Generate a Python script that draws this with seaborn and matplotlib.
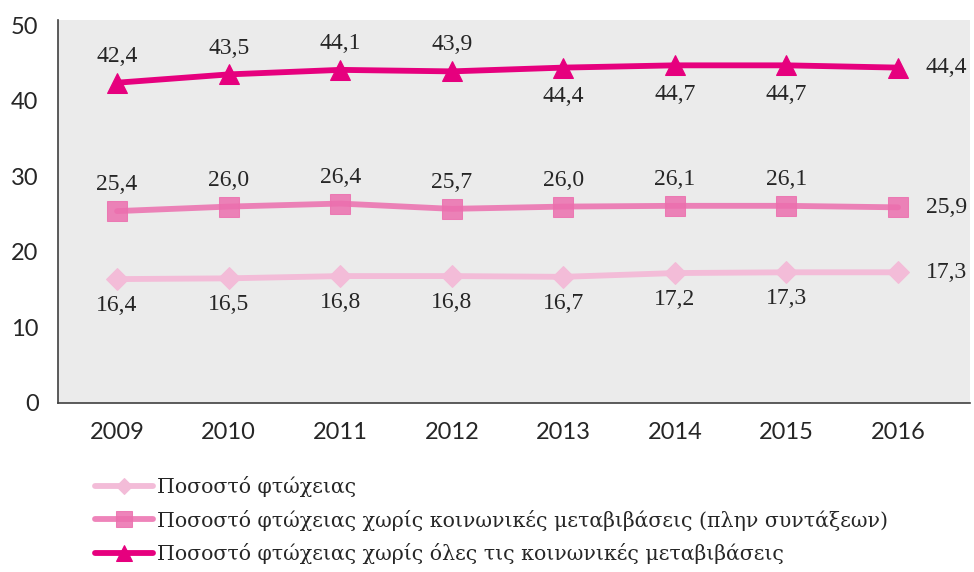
import pandas as pd
import seaborn as sns
import matplotlib.pyplot as plt

# data
years = ['2009', '2010', '2011', '2012', '2013', '2014', '2015', '2016']
poverty = [16.4, 16.5, 16.8, 16.8, 16.7, 17.2, 17.3, 17.3]
no_transfers_ex_pensions = [25.4, 26.0, 26.4, 25.7, 26.0, 26.1, 26.1, 25.9]
no_transfers_all = [42.4, 43.5, 44.1, 43.9, 44.4, 44.7, 44.7, 44.4]

labels = [
    'Ποσοστό φτώχειας',
    'Ποσοστό φτώχειας χωρίς κοινωνικές μεταβιβάσεις (πλην συντάξεων)',
    'Ποσοστό φτώχειας χωρίς όλες τις κοινωνικές μεταβιβάσεις',
]

sns.set_theme(style='white')
plt.rcParams['font.family'] = ['Lato', 'DejaVu Sans']

fig = plt.figure(figsize=(9.74, 5.72), dpi=100)
ax = fig.add_axes([0.0595, 0.2955, 0.9364, 0.6695])
ax.set_facecolor('#EBEBEB')

x = list(range(len(years)))

# series: values, colour, marker, marker size, alpha, label placement, below offset
series = [
    (poverty, '#F3BCD8', 'D', 11, 1.0, 'below', -19),
    (no_transfers_ex_pensions, '#EC6FAE', 's', 15, 0.85, 'above', -19),
    (no_transfers_all, '#E6007E', '^', 15, 1.0, 'mixed', -21),
]

for (vals, col, mk, ms, a, pos, below), lab in zip(series, labels):
    df = pd.DataFrame({'x': x, 'y': vals})
    sns.lineplot(data=df, x='x', y='y', ax=ax, color=col, linewidth=4.2,
                 marker=mk, markersize=ms, markeredgecolor=col,
                 markerfacecolor=col, alpha=a, label=lab)
    for i, v in enumerate(vals):
        txt = f'{v:.1f}'.replace('.', ',')
        if i == len(vals) - 1:
            off, ha = (20, 0), 'left'
        elif pos == 'above' or (pos == 'mixed' and i < 4):
            off, ha = (0, 19), 'center'
        else:
            off, ha = (0, below), 'center'
        ax.annotate(txt, (i, v), xytext=off, textcoords='offset points',
                    ha=ha, va='center', fontsize=17, color='#262626',
                    family=['Liberation Serif', 'DejaVu Serif'])

ax.set_xlim(-0.53, 7.645)
ax.set_ylim(0, 50.7)
ax.set_xticks(x)
ax.set_xticklabels(years)
ax.set_yticks([0, 10, 20, 30, 40, 50])
ax.tick_params(axis='both', labelsize=17, colors='#262626', length=0, pad=14)
ax.set_xlabel('')
ax.set_ylabel('')
for s in ['top', 'right']:
    ax.spines[s].set_visible(False)
for s in ['left', 'bottom']:
    ax.spines[s].set_color('#404040')
    ax.spines[s].set_linewidth(1.2)

leg = ax.legend(loc='upper left', bbox_to_anchor=(0.0975, 0.168),
                bbox_transform=fig.transFigure, frameon=False,
                handlelength=2.8, handletextpad=0.2, labelspacing=0.62,
                borderpad=0, borderaxespad=0,
                prop={'family': ['DejaVu Serif'], 'size': 14.8})
for h, ms in zip(leg.legend_handles, [8, 11, 11]):
    h.set_markersize(ms)

fig.savefig('out.png', dpi=100)
